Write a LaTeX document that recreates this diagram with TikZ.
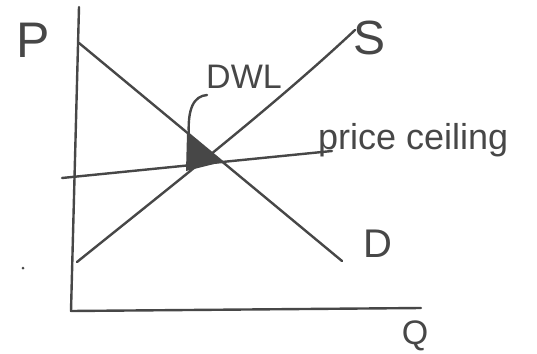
\documentclass[tikz,border=0pt]{standalone}
\usepackage{fontspec}
\setmainfont{Liberation Sans}
\definecolor{ink}{HTML}{474747}
\begin{document}
\begin{tikzpicture}[x=1pt,y=-1pt,
  pen/.style={draw=ink,line width=2.4pt,line cap=round,line join=round},
  lbl/.style={text=ink,inner sep=0pt}]
\useasboundingbox (0,0) rectangle (537,353);
% axes
\coordinate (ytop) at (79,7);
\coordinate (orig) at (71,311);
\coordinate (xend) at (421,308);
\draw[pen] (ytop) -- (orig) -- (xend);
% demand
\coordinate (d1) at (79,43);
\coordinate (d2) at (342,261);
\draw[pen] (d1) -- (d2);
% supply
\coordinate (s1) at (77,262);
\coordinate (s2) at (355,30);
\draw[pen] (s1) .. controls (175,183) and (275,105) .. (s2);
% price ceiling
\coordinate (c1) at (62,178);
\coordinate (c2) at (332,151);
\draw[pen] (c1) -- (c2);
% DWL triangle
\coordinate (t1) at (187,133);
\coordinate (t2) at (186,171);
\coordinate (t3) at (222,162);
\fill[ink] (t1) -- (t2) -- (t3) -- cycle;
% leader
\coordinate (lead) at (207,95);
\draw[pen] (189,138) .. controls (187,108) and (194,96) .. (lead);
% labels
\node[lbl,anchor=base,font=\fontsize{50}{50}\selectfont] (P) at (33,57) {P};
\node[lbl,anchor=base,font=\fontsize{48}{48}\selectfont] (S) at (370,54) {S};
\node[lbl,anchor=base,font=\fontsize{40}{40}\selectfont] (D) at (378,257) {D};
\node[lbl,anchor=base,font=\fontsize{34}{34}\selectfont] (Q) at (415,344) {Q};
\node[lbl,anchor=base west,font=\fontsize{34}{34}\selectfont] (DWL) at (206,88) {DWL};
\node[lbl,anchor=base west,font=\fontsize{36}{36}\selectfont] (PC) at (318,149) {price ceiling};
% dot
\fill[ink] (23,268) circle (1.5);
\end{tikzpicture}
\end{document}
